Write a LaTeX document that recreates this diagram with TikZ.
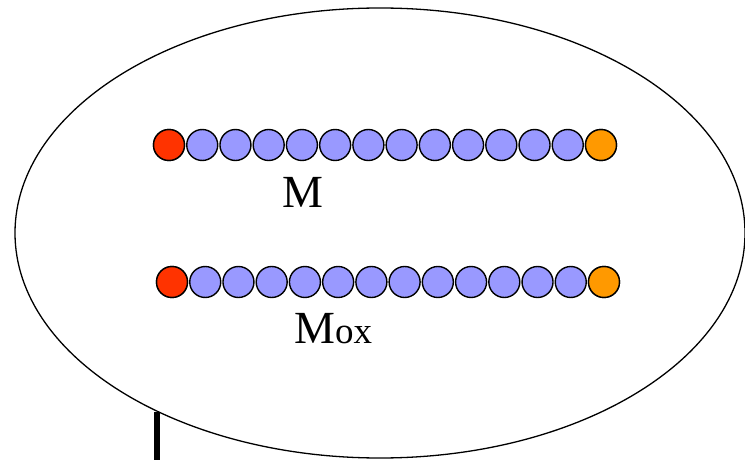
\documentclass[tikz,border=0pt]{standalone}
\usepackage{fontspec}
\setmainfont{Liberation Serif}
\definecolor{bead}{HTML}{9999FF}
\definecolor{headred}{HTML}{FF3300}
\definecolor{tailorange}{HTML}{FF9900}
\begin{document}
\begin{tikzpicture}[x=1pt,y=-1pt,
  beadnode/.style={circle,draw=black,line width=1.4pt,minimum size=31pt,inner sep=0pt,fill=bead},
  label/.style={inner sep=0pt,anchor=base west,font=\fontsize{46}{50}\selectfont}]
\useasboundingbox (0,0) rectangle (745,460);
\draw[line width=1.3pt] (380,233) ellipse [x radius=365, y radius=225];
\foreach \i in {0,...,13}{
  \node[beadnode] (a\i) at ({169+33.23*\i},145) {};
  \node[beadnode] (b\i) at ({172+33.23*\i},282) {};
}
\node[beadnode,fill=headred] at (a0) {};
\node[beadnode,fill=tailorange] at (a13) {};
\node[beadnode,fill=headred] at (b0) {};
\node[beadnode,fill=tailorange] at (b13) {};
\node[label] (m1) at (282,207) {M};
\node[label] (m2) at (294,343) {M{\fontsize{37}{40}\selectfont ox}};
\coordinate (bartop) at (157,412);
\coordinate (barbot) at (157,460);
\draw[line width=6pt] (bartop) -- (barbot);
\end{tikzpicture}
\end{document}
